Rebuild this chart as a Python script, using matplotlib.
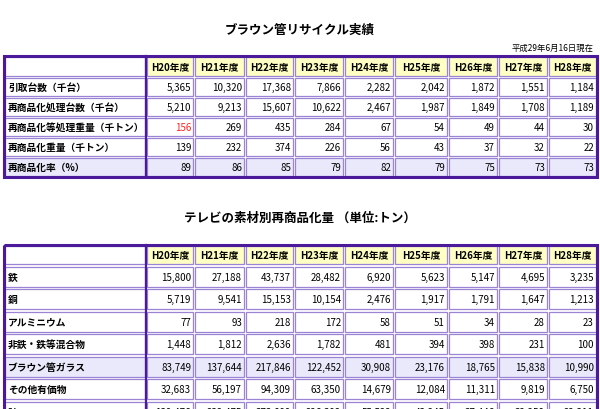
import matplotlib
matplotlib.use("Agg")
import matplotlib.pyplot as plt
from matplotlib.patches import Rectangle

plt.rcParams["font.family"] = "Noto Sans CJK JP"

years = ["H20年度", "H21年度", "H22年度", "H23年度", "H24年度",
         "H25年度", "H26年度", "H27年度", "H28年度"]

title1 = "ブラウン管リサイクル実績"
date_note = "平成29年6月16日現在"
rows1 = ["引取台数（千台）", "再商品化処理台数（千台）", "再商品化等処理重量（千トン）",
         "再商品化重量（千トン）", "再商品化率（%）"]
hikitori = [5365, 10320, 17368, 7866, 2282, 2042, 1872, 1551, 1184]
shori_daisu = [5210, 9213, 15607, 10622, 2467, 1987, 1849, 1708, 1189]
shori_juryo = [156, 269, 435, 284, 67, 54, 49, 44, 30]
saishohin_juryo = [139, 232, 374, 226, 56, 43, 37, 32, 22]
saishohin_ritsu = [89, 86, 85, 79, 82, 79, 75, 73, 73]
vals1 = [hikitori, shori_daisu, shori_juryo, saishohin_juryo, saishohin_ritsu]

title2 = "テレビの素材別再商品化量 （単位:トン）"
rows2 = ["鉄", "銅", "アルミニウム", "非鉄・鉄等混合物", "ブラウン管ガラス", "その他有価物", "計"]
tetsu = [15800, 27188, 43737, 28482, 6920, 5623, 5147, 4695, 3235]
dou = [5719, 9541, 15153, 10154, 2476, 1917, 1791, 1647, 1213]
alumi = [77, 93, 218, 172, 58, 51, 34, 28, 23]
hitetsu = [1448, 1812, 2636, 1782, 481, 394, 398, 231, 100]
glass = [83749, 137644, 217846, 122452, 30908, 23176, 18765, 15838, 10990]
sonota = [32683, 56197, 94309, 63350, 14679, 12084, 11311, 9819, 6750]
total = [139476, 232475, 373899, 226392, 55522, 43245, 37446, 32258, 22311]
vals2 = [tetsu, dou, alumi, hitetsu, glass, sonota, total]

col_edges = [4, 146, 194, 245, 294, 344, 394, 448, 498, 548, 597]
FRAME = "#4a1a9a"
INNER = "#9b84d6"
HEAD = "#ffffc4"
HILITE = "#e9e9fb"


def draw_table(ax, top, head_h, row_h, labels, values, hilite_row, red_cell=None):
    n = len(labels)
    bottom = top + head_h + row_h * n
    ys = [top, top + head_h] + [top + head_h + row_h * (i + 1) for i in range(n)]
    for r in range(n + 1):
        for c in range(len(col_edges) - 1):
            x0, x1 = col_edges[c], col_edges[c + 1]
            y0, y1 = ys[r], ys[r + 1]
            if r == 0:
                fc = HEAD if c > 0 else "white"
            elif r - 1 == hilite_row:
                fc = HILITE
            else:
                fc = "white"
            ax.add_patch(Rectangle((x0 + 1.2, y0 + 1.2), x1 - x0 - 2.4, y1 - y0 - 2.4,
                                   facecolor=fc, edgecolor=INNER, lw=0.9))
            yc = (y0 + y1) / 2
            if r == 0 and c > 0:
                ax.text((x0 + x1) / 2, yc, years[c - 1], ha="center", va="center",
                        fontsize=7, fontweight="bold")
            elif r > 0 and c == 0:
                ax.text(x0 + 4, yc, labels[r - 1], ha="left", va="center",
                        fontsize=7, fontweight="bold")
            elif r > 0:
                color = "#ff2020" if (r - 1, c - 1) == red_cell else "black"
                ax.text(x1 - 3, yc, f"{values[r - 1][c - 1]:,}", ha="right",
                        va="center", fontsize=7, color=color)
    ax.add_patch(Rectangle((col_edges[0], top), col_edges[-1] - col_edges[0],
                           bottom - top, facecolor="none", edgecolor=FRAME, lw=2.2))
    ax.plot([col_edges[1], col_edges[1]], [top, bottom], color=FRAME, lw=1.6)


fig = plt.figure(figsize=(6, 4.1), dpi=100)
ax = fig.add_axes([0, 0, 1, 1])
ax.set_xlim(0, 600)
ax.set_ylim(410, 0)
ax.axis("off")

ax.text(300, 30, title1, ha="center", va="center", fontsize=9, fontweight="bold")
ax.text(594, 48, date_note, ha="right", va="center", fontsize=6)
draw_table(ax, 57, 21, 20, rows1, vals1, hilite_row=4, red_cell=(2, 0))

ax.text(300, 218, title2, ha="center", va="center", fontsize=9, fontweight="bold")
draw_table(ax, 246, 20.5, 22.5, rows2, vals2, hilite_row=4)

fig.savefig("out.png", dpi=100)
